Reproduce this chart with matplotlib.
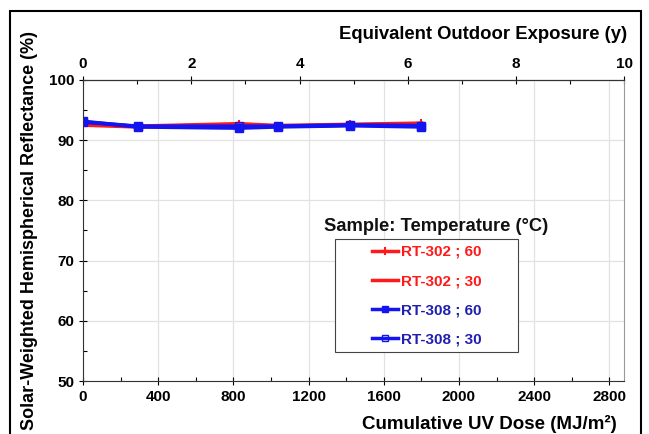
import numpy as np
import matplotlib.pyplot as plt
from matplotlib.lines import Line2D
from matplotlib.patches import Rectangle

plt.rcParams['font.family'] = ['Liberation Sans', 'DejaVu Sans']
plt.rcParams['font.weight'] = 'bold'

# cumulative UV dose (MJ/m^2)
dose = [0, 290, 830, 1035, 1420, 1800]
rt302_60 = [92.7, 92.3, 92.7, 92.4, 92.6, 92.8]
rt302_30 = [92.5, 92.2, 92.6, 92.3, 92.5, 92.7]
rt308_60 = [93.1, 92.2, 92.0, 92.2, 92.4, 92.2]
rt308_30 = [93.0, 92.3, 92.3, 92.3, 92.5, 92.4]
labels = ['RT-302 ; 60', 'RT-302 ; 30', 'RT-308 ; 60', 'RT-308 ; 30']

dose_per_year = 288.0
red = '#ff1a1a'
blue = '#1414f0'

fig = plt.figure(figsize=(6.49, 4.34), dpi=100)
ax = fig.add_axes([0.128, 0.122, 0.834, 0.694])

ax.plot(dose, rt302_60, color=red, lw=2.7, marker='+', ms=6, mew=1.5)
ax.plot(dose, rt302_30, color=red, lw=2.7, marker='_', ms=6, mew=1.5)
ax.plot(dose, rt308_60, color=blue, lw=2.7, marker='s', ms=6)
ax.plot(dose, rt308_30, color=blue, lw=2.7, marker='s', ms=6, mfc='none')

ax.set_xlim(0, 10 * dose_per_year)
ax.set_ylim(50, 100)
ax.set_xticks(np.arange(0, 2801, 400))
ax.set_xticks(np.arange(0, 2881, 200), minor=True)
ax.set_yticks(np.arange(50, 101, 10))
ax.set_yticks(np.arange(50, 101, 5), minor=True)
ax.grid(True, which='major', color='#e2e2e2', lw=0.9)
ax.tick_params(which='major', direction='inout', length=6, width=0.8, labelsize=11)
ax.tick_params(which='minor', direction='in', length=3, width=0.8)
for s in ax.spines.values():
    s.set_color('#333333')
    s.set_linewidth(0.8)
ax.spines['right'].set_color('#999999')

top = ax.secondary_xaxis('top', functions=(lambda x: x / dose_per_year,
                                           lambda y: y * dose_per_year))
top.set_xticks(np.arange(0, 11, 2))
top.set_xticks(np.arange(0, 11, 1), minor=True)
top.tick_params(which='major', direction='inout', length=6, width=0.8, labelsize=11)
top.tick_params(which='minor', direction='in', length=3, width=0.8)

fig.text(0.951, 0.024, 'Cumulative UV Dose (MJ/m²)', ha='right', va='center',
         fontsize=13.5, fontweight='bold')
fig.text(0.966, 0.92, 'Equivalent Outdoor Exposure (y)', ha='right', va='center',
         fontsize=13.3, fontweight='bold')
fig.text(0.046, 0.47, 'Solar-Weighted Hemispherical Reflectance (%)', rotation=90,
         ha='center', va='center', fontsize=13, fontweight='bold')

# legend (frame drawn separately, wider than the entries)
handles = [
    Line2D([], [], color=red, lw=2.5, marker='+', ms=6, mew=1.5),
    Line2D([], [], color=red, lw=2.5, marker='_', ms=6, mew=1.5),
    Line2D([], [], color=blue, lw=2.5, marker='s', ms=4),
    Line2D([], [], color=blue, lw=2.5, marker='s', ms=5, mfc='none'),
]
leg = ax.legend(handles, labels, loc='center', bbox_to_anchor=(0.635, 0.283),
                frameon=False, fontsize=11, handlelength=1.7, handletextpad=0.2,
                labelspacing=1.0, borderpad=0.0)
for t, c in zip(leg.get_texts(), [red, red, '#2020b0', '#2020b0']):
    t.set_color(c)
    t.set_fontweight('bold')
ax.add_patch(Rectangle((0.466, 0.096), 0.338, 0.376, transform=ax.transAxes,
                       facecolor='white', edgecolor='#444444', lw=0.8, zorder=4))
leg.set_zorder(5)
fig.text(0.672, 0.477, 'Sample: Temperature (°C)', ha='center', va='center',
         fontsize=13.2, fontweight='bold', color='#111111')

fig.patches.append(Rectangle((0.016, -0.05), 0.972, 1.025, transform=fig.transFigure,
                             fill=False, edgecolor='black', lw=1.5))

fig.savefig('out.png', dpi=100)
